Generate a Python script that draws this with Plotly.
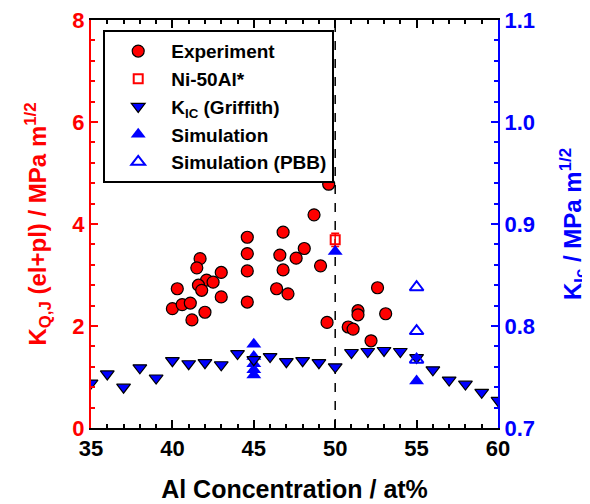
import plotly.graph_objects as go

# ---- data ----
exp_x = [49.6, 48.7, 46.8, 44.6, 44.6, 44.6, 44.6, 46.6, 46.8, 47.6, 48.1, 49.1,
         46.4, 47.1, 49.5, 41.7, 41.5, 43.0, 42.1, 42.5, 41.6, 41.8, 40.3, 43.0,
         40.0, 40.6, 41.1, 42.0, 41.2, 52.6, 51.4, 51.4, 53.1, 50.8, 51.1, 52.2]
exp_y = [4.78, 4.18, 3.84, 3.74, 3.42, 3.08, 2.47, 3.39, 3.10, 3.33, 3.52, 3.18,
         2.73, 2.63, 2.07, 3.32, 3.14, 3.05, 2.90, 2.86, 2.80, 2.70, 2.73, 2.57,
         2.34, 2.42, 2.45, 2.27, 2.12, 2.75, 2.30, 2.22, 2.24, 1.98, 1.94, 1.71]

ni_x = [50]
ni_y = [3.69]
ni_err = [0.13]

grif_x = [35, 36, 37, 38, 39, 40, 41, 42, 43, 44, 45, 46, 47, 48, 49, 50,
          51, 52, 53, 54, 55, 56, 57, 58, 59, 60]
grif_y = [0.744, 0.753, 0.740, 0.759, 0.749, 0.766, 0.763, 0.764, 0.762, 0.773,
          0.767, 0.770, 0.765, 0.766, 0.764, 0.760, 0.774, 0.775, 0.776, 0.775,
          0.769, 0.757, 0.747, 0.743, 0.735, 0.727]

sim_x = [45, 45, 45, 45, 45, 50, 55]
sim_y = [0.782, 0.770, 0.763, 0.757, 0.752, 0.873, 0.746]

pbb_x = [55, 55, 55]
pbb_y = [0.838, 0.795, 0.767]

divider_x = 50

FONT = "Liberation Sans"
RED = "#ff0000"
BLUE = "#0000ff"

fig = go.Figure()

fig.add_trace(go.Scatter(
    x=exp_x, y=exp_y, mode="markers", name="Experiment", legendrank=1,
    marker=dict(symbol="circle", size=12, color=RED, line=dict(color="black", width=1.2)),
))
fig.add_trace(go.Scatter(
    x=ni_x, y=ni_y, mode="markers", name="Ni-50Al*", legendrank=2,
    marker=dict(symbol="square-open", size=9, color=RED, line=dict(color=RED, width=2)),
    error_y=dict(type="data", array=ni_err, color=RED, thickness=1.5, width=4),
))
fig.add_trace(go.Scatter(
    x=sim_x, y=sim_y, mode="markers", name="Simulation", legendrank=4, yaxis="y2",
    marker=dict(symbol="triangle-up", size=13, color=BLUE, line=dict(color=BLUE, width=0)),
))
fig.add_trace(go.Scatter(
    x=grif_x, y=grif_y, mode="markers", name="K<sub>IC</sub> (Griffith)", legendrank=3, yaxis="y2",
    marker=dict(symbol="triangle-down", size=12, color=BLUE, line=dict(color="black", width=1.2)),
))
fig.add_trace(go.Scatter(
    x=pbb_x, y=pbb_y, mode="markers", name="Simulation (PBB)", legendrank=5, yaxis="y2",
    marker=dict(symbol="triangle-up-open", size=12, color=BLUE, line=dict(color=BLUE, width=2)),
))

fig.add_shape(type="line", xref="x", yref="y", x0=divider_x, x1=divider_x, y0=0, y1=8,
              line=dict(color="black", width=1.5, dash="dash"), layer="below")

fig.update_layout(
    width=582, height=496,
    margin=dict(l=83, r=92, t=12, b=76, autoexpand=False),
    paper_bgcolor="white", plot_bgcolor="white",
    font=dict(family=FONT, size=21, color="black", weight="bold"),
    showlegend=True,
    legend=dict(
        x=0.03, y=0.975, xanchor="left", yanchor="top",
        bordercolor="black", borderwidth=2, bgcolor="white",
        font=dict(family=FONT, size=19, color="black", weight="bold"),
        tracegroupgap=0, itemwidth=56,
    ),
    xaxis=dict(
        range=[35, 60], dtick=5, tick0=35, showgrid=False, zeroline=False, automargin=False,
        showline=True, linecolor="black", linewidth=2, mirror="ticks",
        ticks="inside", ticklen=8, tickwidth=1.5, tickcolor="black",
        minor=dict(dtick=1, ticks="inside", ticklen=4, tickcolor="black", tickwidth=1.5),
        tickfont=dict(family=FONT, size=22, color="black", weight="bold"),
        ticklabeloverflow="allow",
        title=dict(text="Al Concentration / at%", standoff=20,
                   font=dict(family=FONT, size=25, color="black", weight="bold")),
    ),
    yaxis=dict(
        range=[0, 8], dtick=2, tick0=0, showgrid=False, zeroline=False, automargin=False,
        showline=True, linecolor=RED, linewidth=2,
        ticks="inside", ticklen=7, tickwidth=1.5, tickcolor=RED,
        minor=dict(dtick=0.4, ticks="inside", ticklen=4, tickcolor=RED, tickwidth=1.5),
        tickfont=dict(family=FONT, size=22, color=RED, weight="bold"),
        ticklabeloverflow="allow",
        title=dict(text="K<sub>Q,J</sub> (el+pl) / MPa m<sup>1/2</sup>", standoff=19,
                   font=dict(family=FONT, size=24, color=RED, weight="bold")),
    ),
    yaxis2=dict(
        range=[0.7, 1.1], dtick=0.1, tick0=0.7, tickformat=".1f", overlaying="y", side="right",
        showgrid=False, zeroline=False, automargin=False,
        showline=True, linecolor=BLUE, linewidth=2,
        ticks="inside", ticklen=7, tickwidth=1.5, tickcolor=BLUE,
        minor=dict(dtick=0.02, ticks="inside", ticklen=4, tickcolor=BLUE, tickwidth=1.5),
        tickfont=dict(family=FONT, size=22, color=BLUE, weight="bold"),
        ticklabeloverflow="allow",
        title=dict(text="K<sub>Ic</sub> / MPa m<sup>1/2</sup>", standoff=34,
                   font=dict(family=FONT, size=24, color=BLUE, weight="bold")),
    ),
)

fig.write_html("out.html")
